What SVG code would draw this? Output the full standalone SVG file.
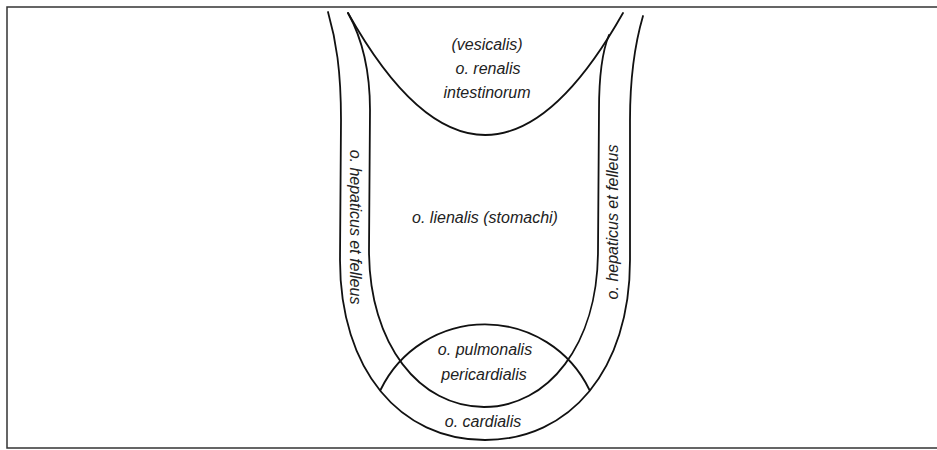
<svg xmlns="http://www.w3.org/2000/svg" width="937" height="450" viewBox="0 0 937 450">
  <style>
    .ln { fill: none; stroke: #111; stroke-width: 1.8; stroke-linecap: round; }
    .frame { fill: none; stroke: #333; stroke-width: 1.5; }
    .lbl { font-family: "Liberation Sans", Arial, sans-serif; font-style: italic; font-size: 16px; fill: #222; text-anchor: middle; }
  </style>
  <rect width="937" height="450" fill="#fff"/>
  <rect id="frame" class="frame" x="7" y="7" width="940" height="441"/>
  <g id="connectors">
    <path id="outer-u" class="ln" d="M328,12 C336,40 341,70 341,120 L340,260 C340,370 400,440 485,440 C570,440 630,370 630,260 L630,120 C630,70 636,40 643,16"/>
    <path id="inner-u" class="ln" d="M348,13 C358,31 370,60 370,110 L369,250 C369,345 420,407 484,407 C548,407 598,345 598,250 L599,110 C599,75 602,52 609,35"/>
    <path id="top-arc" class="ln" d="M348,13 Q485,257 623,13"/>
    <path id="circle-arc" class="ln" d="M380.5,390 A116 116 0 0 1 589.5,390"/>
  </g>
  <g id="renalis">
    <text class="lbl" x="487" y="50">(vesicalis)</text>
    <text class="lbl" x="488" y="74">o. renalis</text>
    <text class="lbl" x="487" y="98">intestinorum</text>
  </g>
  <g id="lienalis">
    <text class="lbl" x="485" y="223">o. lienalis (stomachi)</text>
  </g>
  <g id="hepaticus-left">
    <text class="lbl" transform="translate(350,227) rotate(90)">o. hepaticus et felleus</text>
  </g>
  <g id="hepaticus-right">
    <text class="lbl" transform="translate(618,222) rotate(-90)">o. hepaticus et felleus</text>
  </g>
  <g id="pulmonalis">
    <text class="lbl" x="485" y="355">o. pulmonalis</text>
    <text class="lbl" x="484" y="380">pericardialis</text>
  </g>
  <g id="cardialis">
    <text class="lbl" x="483" y="427">o. cardialis</text>
  </g>
</svg>
